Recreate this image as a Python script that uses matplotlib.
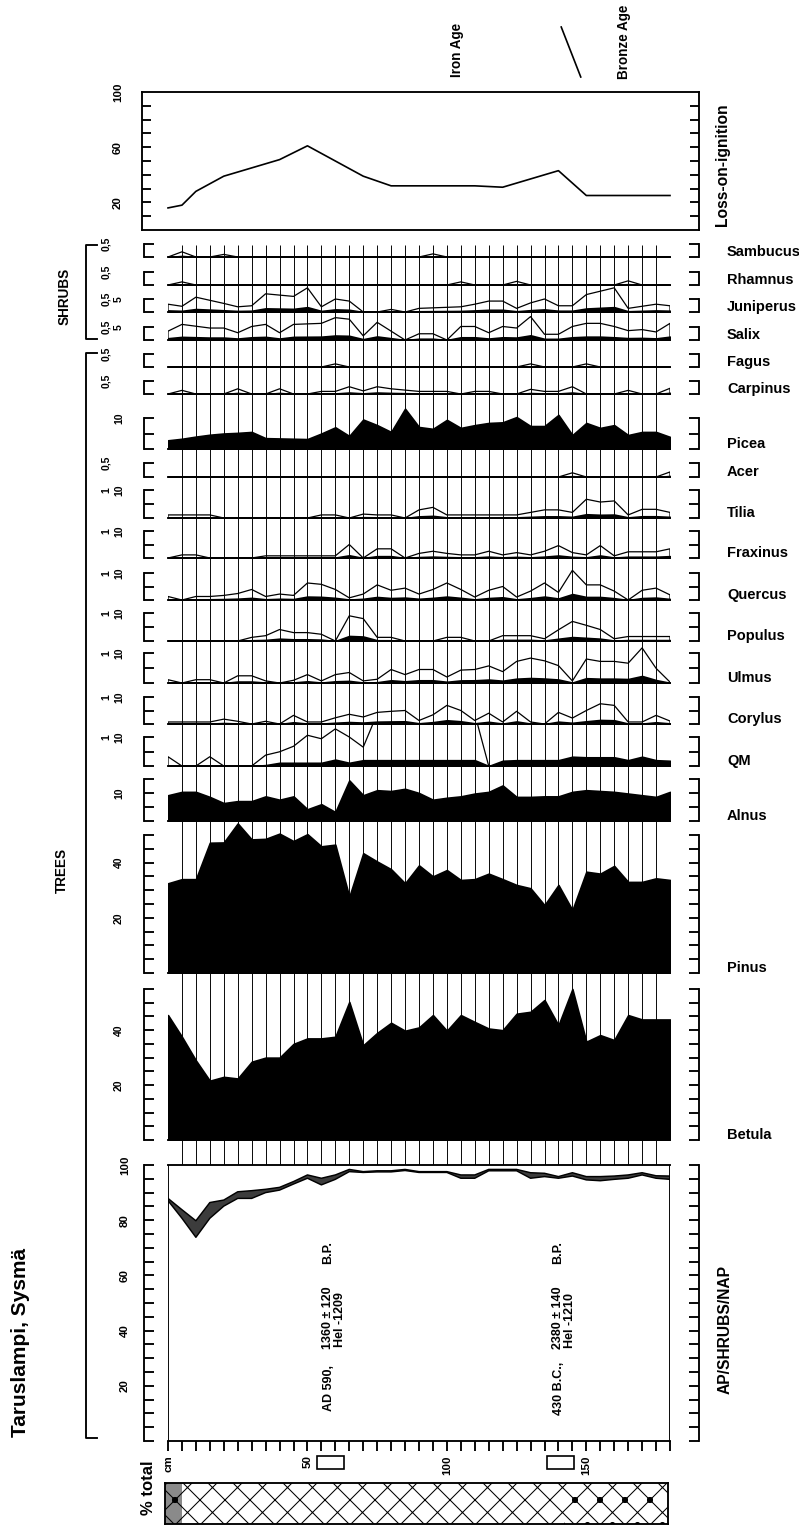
import numpy as np
import matplotlib
matplotlib.use("Agg")
import matplotlib.pyplot as plt
from matplotlib.patches import Rectangle

W, H, DPI = 799, 1527, 150

# sample levels (cm), one every 5 cm
DEPTH = np.arange(0, 181, 5)

# loss-on-ignition (% dry weight)
LOI_DEPTH = [0, 5, 10, 20, 30, 40, 50, 60, 70, 80, 110, 120, 130, 140, 150, 180]
LOI = [16, 18, 28, 39, 45, 51, 61, 50, 39, 32, 32, 31, 37, 43, 25, 25]

# pollen percentages (of total)
SAMBUCUS = [0, .4, 0, 0, .2, 0, 0, 0, 0, 0,
            0, 0, 0, 0, 0, 0, 0, 0, 0, .24,
            0, 0, 0, 0, 0, 0, 0, 0, 0, 0,
            0, 0, 0, 0, 0, 0, 0]
RHAMNUS = [0, .24, 0, 0, 0, 0, 0, 0, 0, 0,
           0, 0, 0, 0, 0, 0, 0, 0, 0, 0,
           0, .24, 0, 0, 0, .28, 0, 0, 0, 0,
           0, 0, 0, .32, 0, 0, 0]
JUNIPERUS = [.6, .44, 1.14, .9, .66, .4, .48, 1.4, 1.3, 1.2,
             1.86, .4, 1.0, .84, 0, 0, .2, 0, .28, .32,
             .36, .4, .6, .84, .84, .28, .7, 1.0, .48, .48,
             1.34, 1.6, 1.86, .28, .44, .6, .48]
SALIX = [.68, 1.2, 1.06, .92, .92, .56, 1.04, 1.2, .56, 1.2,
         1.24, 1.28, 1.72, 1.6, .32, 1.36, .68, 0, .48, .48,
         0, 1.04, 1.04, .56, 1.04, .92, 1.8, .44, .44, 1.04,
         1.28, 1.28, 1.04, .72, .8, .62, 1.28]
FAGUS = [0, 0, 0, 0, 0, 0, 0, 0, 0, 0,
         0, 0, .24, 0, 0, 0, 0, 0, 0, 0,
         0, 0, 0, 0, 0, 0, .24, 0, 0, 0,
         .24, 0, 0, 0, 0, 0, 0]
CARPINUS = [0, .28, 0, 0, 0, .4, 0, 0, .4, 0,
            0, .2, .2, .56, .24, .56, .4, .3, .2, .2,
            .2, 0, .2, .2, 0, 0, .36, .2, .2, .56,
            0, 0, 0, .28, 0, 0, .44]
PICEA = [2.8, 3.3, 4.0, 4.6, 5.0, 5.2, 5.5, 3.5, 3.4, 3.3,
         3.2, 5.0, 7.0, 4.2, 9.5, 7.7, 5.5, 13.0, 7.1, 6.5,
         9.4, 6.8, 7.7, 8.4, 8.6, 10.3, 7.4, 7.4, 11.0, 4.5,
         8.4, 6.8, 7.7, 4.5, 5.5, 5.5, 3.9]
ACER = [0, 0, 0, 0, 0, 0, 0, 0, 0, 0,
        0, 0, 0, 0, 0, 0, 0, 0, 0, 0,
        0, 0, 0, 0, 0, 0, 0, 0, 0, .3,
        0, 0, 0, 0, 0, 0, .36]
TILIA = [.22, .22, .22, .22, 0, 0, 0, 0, 0, 0,
         0, .22, .22, 0, .28, .22, .22, 0, .58, .76,
         .22, .22, .22, .22, .22, .22, .4, .58, .58, .4,
         1.34, 1.14, 1.22, .22, .62, .62, .4]
FRAXINUS = [0, .23, .23, 0, 0, 0, 0, .16, .16, .16,
            .16, .16, .16, 1.0, 0, .68, .68, 0, .34, .5,
            .34, .23, .23, .5, .23, .4, .23, .5, .92, .4,
            .23, .92, .16, .46, .46, .46, .68]
QUERCUS = [.26, 0, .26, .26, .34, .48, .78, .26, .44, .34,
           1.26, 1.16, .78, .16, .44, 1.12, .72, .88, .44, .78,
           1.26, .78, .22, .72, 1.0, .22, .66, 1.26, .56, 2.2,
           1.12, 1.12, .66, 0, .72, .88, .38]
POPULUS = [0, 0, 0, 0, 0, 0, .26, .38, .82, .6,
           .6, .48, 0, 1.8, 1.6, .26, .26, 0, 0, 0,
           .26, .26, 0, 0, .38, .38, .38, .16, .8, 1.4,
           1.12, .82, .16, .32, .32, .32, .32]
ULMUS = [.22, 0, .22, .22, 0, .48, .48, .14, 0, .18,
         .56, .14, .56, .7, .14, .25, .9, .56, .9, .9,
         .4, .86, .9, 1.14, .76, 1.44, 1.66, 1.48, 1.16, .14,
         1.6, 1.44, 1.44, 1.32, 2.34, .98, .06]
CORYLUS = [.15, .15, .15, .15, .36, .2, 0, .2, 0, .64,
           .15, .15, .46, .72, .52, .86, .94, 1.0, .26, .68,
           1.38, 1.0, .26, .8, .15, .94, .15, 0, .86, .44,
           1.0, 1.5, 1.38, .15, .15, .64, .22]
QM = [0, 0, 0, 0, 0, 0, 0, .3, 1.1, 1.1,
      1.1, 1.1, 2.2, 1.1, 2, 2, 2, 2, 2, 2,
      2, 2, 2, 0, 1.8, 2, 2, 2, 2, 3.2,
      3, 3, 3, 2, 3.2, 2, 1.8]
# QM x10 curve, goes off scale between 75 and 110 cm
QM_X10 = [3.2, 0, 0, 3.2, 0, 0, 0, 3.75, 4.9, 6.8,
          10.6, 9.4, 12.8, 10, 6.5, 18, 18, 18, 18, 18,
          18, 18, 18, 0, 0, 0, 0, 0, 0, 0,
          0, 0, 0, 0, 0, 0, 0]
ALNUS = [9.2, 10.4, 10.4, 8.6, 6.4, 7.1, 7.1, 8.8, 7.6, 8.8,
         4.2, 6.0, 3.2, 14.5, 9.2, 11.0, 10.7, 11.5, 10.0, 7.6,
         8.3, 8.8, 9.8, 10.4, 12.7, 8.6, 8.6, 8.8, 8.8, 10.4,
         11.0, 10.7, 10.4, 9.8, 9.2, 8.6, 10.4]
PINUS = [32.5, 34, 34, 47.2, 47.3, 54.2, 48.4, 48.6, 50.5, 47.8,
         50.3, 45.9, 46.5, 27.6, 43.4, 40.4, 37.6, 32.5, 39, 35,
         37.3, 33.7, 34, 36, 34, 31.9, 30.7, 24.6, 31.9, 22.8,
         36.7, 36, 38.8, 33, 33, 34.3, 33.7]
BETULA = [45.5, 37.6, 29, 21.6, 23, 22.4, 28.5, 30, 30, 35,
          37, 37, 37.6, 50.3, 34.5, 39, 42.7, 39.8, 41, 45.5,
          39.8, 45.5, 43, 40.6, 40, 46, 46.7, 51, 41.8, 55,
          35.8, 38.2, 36.4, 45.5, 43.9, 43.9, 43.9]
AP = [87.1, 80.7, 73.8, 80.7, 85.1, 87.9, 87.9, 90, 90.9, 93.1,
      95.2, 92.8, 94.8, 97.6, 97.3, 97.5, 97.5, 98, 97.3, 97.3,
      97.3, 95.2, 95.2, 97.9, 97.9, 97.9, 95.2, 95.8, 95.2, 96,
      94.6, 94.3, 94.8, 95.2, 96.4, 95.2, 94.8]
SHRUBS = [.8, 3.1, 6.0, 5.7, 2.2, 2.4, 2.8, 1.2, 1.0, .9,
          1.2, 2.4, 1.6, .8, .3, .4, .4, .4, .3, .3,
          .3, 1.2, 1.2, .5, .5, .5, 2.0, 1.2, .6, 1.2,
          1.2, 1.5, 1.2, 1.2, .8, .9, 1.2]

# radiocarbon samples and sediment units
DATED_LEVELS = [(53.5, 63.0), (136.0, 145.5)]
DATES = [("AD 590,", "1360 ± 120", "Hel -1209"), ("430 B.C.,", "2380 ± 140", "Hel -1210")]
LITH_BOUNDS = [5, 142]
AGE_LIMIT = (141, 148)

SILHOUETTE = {"Sambucus": SAMBUCUS, "Rhamnus": RHAMNUS, "Juniperus": JUNIPERUS,
              "Salix": SALIX, "Fagus": FAGUS, "Carpinus": CARPINUS, "Picea": PICEA,
              "Acer": ACER, "Tilia": TILIA, "Fraxinus": FRAXINUS, "Quercus": QUERCUS,
              "Populus": POPULUS, "Ulmus": ULMUS, "Corylus": CORYLUS, "QM": QM,
              "Alnus": ALNUS, "Pinus": PINUS, "Betula": BETULA}
NO_EXAG = {"Picea", "Alnus", "Pinus", "Betula"}
EXAG = 5

plt.rcParams["font.family"] = ["Liberation Sans", "DejaVu Sans"]
plt.rcParams["hatch.linewidth"] = 0.5

# layout (pixels)
X0, X1 = 168, 670          # depth 0 and 180 cm
C1, C2 = 106, 119          # columns of scale labels
BRK_L, BRK_R = 144, 699    # bracket lines
PT = 72 / DPI

STRIP_LAYOUT = [
    # name, baseline, bracket top, top value, ticks, scale labels
    ("Sambucus", 257, 244, 5, [0, 5], [("0,5", C1, 5)]),
    ("Rhamnus", 285, 272, 5, [0, 5], [("0,5", C1, 5)]),
    ("Juniperus", 312, 299, 5, [0, 5], [("0,5", C1, 5), ("5", C2, 5)]),
    ("Salix", 340, 327, 5, [0, 5], [("0,5", C1, 5), ("5", C2, 5)]),
    ("Fagus", 367, 354, 5, [0, 5], [("0,5", C1, 5)]),
    ("Carpinus", 394, 381, 5, [0, 5], [("0,5", C1, 5)]),
    ("Picea", 449, 418, 10, [0, 5, 10], [("10", C2, 10)]),
    ("Acer", 477, 463, 5, [0, 5], [("0,5", C1, 5)]),
    ("Tilia", 518, 490, 10, [0, 5, 10], [("1", C1, 10), ("10", C2, 10)]),
    ("Fraxinus", 558, 531, 10, [0, 5, 10], [("1", C1, 10), ("10", C2, 10)]),
    ("Quercus", 600, 573, 10, [0, 5, 10], [("1", C1, 10), ("10", C2, 10)]),
    ("Populus", 641, 613, 10, [0, 5, 10], [("1", C1, 10), ("10", C2, 10)]),
    ("Ulmus", 683, 653, 10, [0, 5, 10], [("1", C1, 10), ("10", C2, 10)]),
    ("Corylus", 724, 697, 10, [0, 5, 10], [("1", C1, 10), ("10", C2, 10)]),
    ("QM", 766, 737, 10, [0, 5, 10], [("1", C1, 10), ("10", C2, 10)]),
    ("Alnus", 821, 779, 15, [0, 5, 10, 15], [("10", C2, 10)]),
    ("Pinus", 973, 835, 50, list(range(0, 51, 5)), [("40", C2, 40), ("20", C2, 20)]),
    ("Betula", 1140, 989, 55, list(range(0, 56, 5)), [("40", C2, 40), ("20", C2, 20)]),
]

fig = plt.figure(figsize=(W / DPI, H / DPI), dpi=DPI)
fig.patch.set_facecolor("white")


def px_axes(left, top, right, bottom):
    ax = fig.add_axes([left / W, 1 - bottom / H, (right - left) / W, (bottom - top) / H])
    ax.patch.set_visible(False)
    return ax


def to_depth(px):
    return (px - X0) / (X1 - X0) * 180


def frac(px, left=X0, right=X1):
    return (px - left) / (right - left)


def bracket(ax, top_val, ticks):
    ax.spines["top"].set_visible(False)
    ax.spines["bottom"].set_visible(False)
    ax.spines["left"].set_position(("outward", (X0 - BRK_L) * PT))
    ax.spines["right"].set_position(("outward", (BRK_R - X1) * PT))
    for s in ("left", "right"):
        ax.spines[s].set_bounds(0, top_val)
        ax.spines[s].set_linewidth(0.9)
    ax.set_yticks(ticks)
    ax.tick_params(axis="y", direction="in", left=True, right=True,
                   labelleft=False, labelright=False, length=10 * PT, width=0.9)


def vtext(ax, x, y, s, size, transform=None, weight="bold"):
    ax.text(x, y, s, rotation=90, ha="center", va="center", fontsize=size,
            fontweight=weight, transform=transform if transform else ax.transData)


# decorations in pixel space
deco = px_axes(0, 0, W, H)
deco.set_xlim(0, W)
deco.set_ylim(H, 0)
deco.axis("off")
deco.plot([97, 86, 86, 97], [245, 245, 339, 339], color="black", lw=0.9)
deco.plot([97, 86, 86, 97], [353, 353, 1438, 1438], color="black", lw=0.9)
vtext(deco, 65, 296, "SHRUBS", 6.5)
vtext(deco, 62, 870, "TREES", 6.5)
vtext(deco, 20, 1342, "Taruslampi, Sysmä", 10)
vtext(deco, 148, 1488, "% total", 8)
vtext(deco, 722, 165, "Loss-on-ignition", 7.5)
vtext(deco, 725, 1330, "AP/SHRUBS/NAP", 7.5)

# sample lines behind the curves
bg = px_axes(X0, 245, X1, 1165)
bg.set_xlim(0, 180)
bg.set_ylim(0, 1)
bg.axis("off")
bg.vlines(DEPTH[1:-1], 0, 1, color="black", lw=0.45)

# period labels
age = px_axes(X0, 0, X1, 90)
age.set_xlim(0, 180)
age.set_ylim(90, 0)
age.axis("off")
vtext(age, to_depth(457), 50, "Iron Age", 6.5)
vtext(age, to_depth(624), 42, "Bronze Age", 6.5)
age.plot(AGE_LIMIT, [27, 77], color="black", lw=0.8)

# loss-on-ignition
loi = px_axes(142, 92, 699, 230)
loi.set_xlim(to_depth(142), to_depth(699))
loi.set_ylim(0, 100)
loi.plot(LOI_DEPTH, LOI, color="black", lw=0.8)
loi.set_xticks([])
loi.set_yticks(range(10, 100, 10))
loi.tick_params(axis="y", direction="in", left=True, right=True, labelleft=False,
                length=9 * PT, width=0.9)
for s in loi.spines.values():
    s.set_linewidth(0.9)
for v in (100, 60, 20):
    vtext(loi, frac(118, 142, 699), v, str(v), 5.5, transform=loi.get_yaxis_transform())

# pollen strips
prev_base = 243
for name, base, top_px, top_val, ticks, scale_labels in STRIP_LAYOUT:
    pxu = (base - top_px) / top_val
    ax = px_axes(X0, prev_base + 1, X1, base)
    ax.set_xlim(0, 180)
    ax.set_ylim(0, (base - prev_base - 1) / pxu)
    ax.set_xticks([])
    bracket(ax, top_val, ticks)
    pct = np.array(SILHOUETTE[name], dtype=float)
    ax.fill_between(DEPTH, 0, pct, facecolor="black", edgecolor="black", lw=0.8)
    if name == "QM":
        ax.fill_between(DEPTH, 0, QM_X10, facecolor="none", edgecolor="black", lw=0.6)
    elif name not in NO_EXAG:
        ax.fill_between(DEPTH, 0, pct * EXAG, facecolor="none", edgecolor="black", lw=0.6)
    ax.plot([0, 180], [0, 0], color="black", lw=0.9, clip_on=False)
    ax.text(frac(727), 5 / pxu, name, transform=ax.get_yaxis_transform(),
            ha="left", va="center", fontsize=7, fontweight="bold")
    for s, col, val in scale_labels:
        vtext(ax, frac(col), val, s, 5, transform=ax.get_yaxis_transform())
    prev_base = base

# AP / shrubs / NAP
ap = px_axes(X0, 1165, X1, 1441)
ap.set_xlim(0, 180)
ap.set_ylim(0, 100)
upper = np.array(AP) + np.array(SHRUBS)
ap.fill_between(DEPTH, AP, upper, facecolor="#3c3c3c", lw=0)
ap.plot(DEPTH, AP, color="black", lw=0.7)
ap.plot(DEPTH, upper, color="black", lw=0.7)
ap.axvline(0, color="black", lw=0.9)
ap.axvline(180, color="black", lw=0.9)
bracket(ap, 100, list(range(0, 101, 5)))
ap.spines["top"].set_visible(True)
ap.spines["bottom"].set_visible(True)
ap.spines["top"].set_linewidth(0.9)
ap.spines["bottom"].set_linewidth(0.9)
ap.set_xticks(range(0, 181, 5))
ap.set_xticklabels(["cm" if d == 0 else (str(d) if d % 50 == 0 else "") for d in range(0, 181, 5)],
                   fontweight="bold")
ap.tick_params(axis="x", direction="out", length=10 * PT, width=0.9, pad=2,
               labelsize=5.5, labelrotation=90)
for v in (100, 80, 60, 40, 20):
    vtext(ap, frac(125), v, str(v), 5.5, transform=ap.get_yaxis_transform())


def ap_pct(px):
    return (1441 - px) / 2.76


for (lab, c14, lab_id), (d0, d1) in zip(DATES, DATED_LEVELS):
    mid = (d0 + d1) / 2
    vtext(ap, mid - 0.6, ap_pct(1388), lab, 6)
    vtext(ap, mid - 0.9, ap_pct(1318), c14, 6)
    vtext(ap, mid + 3.4, ap_pct(1320), lab_id, 6)
    vtext(ap, mid - 0.9, ap_pct(1253), "B.P.", 6)

# dated sample levels
dbox = px_axes(X0, 1456, X1, 1469)
dbox.set_xlim(0, 180)
dbox.set_ylim(0, 1)
dbox.axis("off")
for d0, d1 in DATED_LEVELS:
    dbox.add_patch(Rectangle((d0, 0), d1 - d0, 1, fill=False, lw=0.8, clip_on=False))

# sediment column
lith = px_axes(165, 1483, 668, 1524)
lo, hi = to_depth(165), to_depth(668)
lith.set_xlim(lo, hi)
lith.set_ylim(0, 1)
lith.set_xticks([])
lith.set_yticks([])
edges = [lo] + LITH_BOUNDS + [hi]
styles = [("#8a8a8a", "xx."), ("white", "xx"), ("white", "xx.")]
for a, b, (fc, hatch) in zip(edges[:-1], edges[1:], styles):
    lith.axvspan(a, b, facecolor=fc, edgecolor="black", hatch=hatch, lw=0)
for s in lith.spines.values():
    s.set_linewidth(0.9)

fig.savefig("out.png", dpi=DPI)
